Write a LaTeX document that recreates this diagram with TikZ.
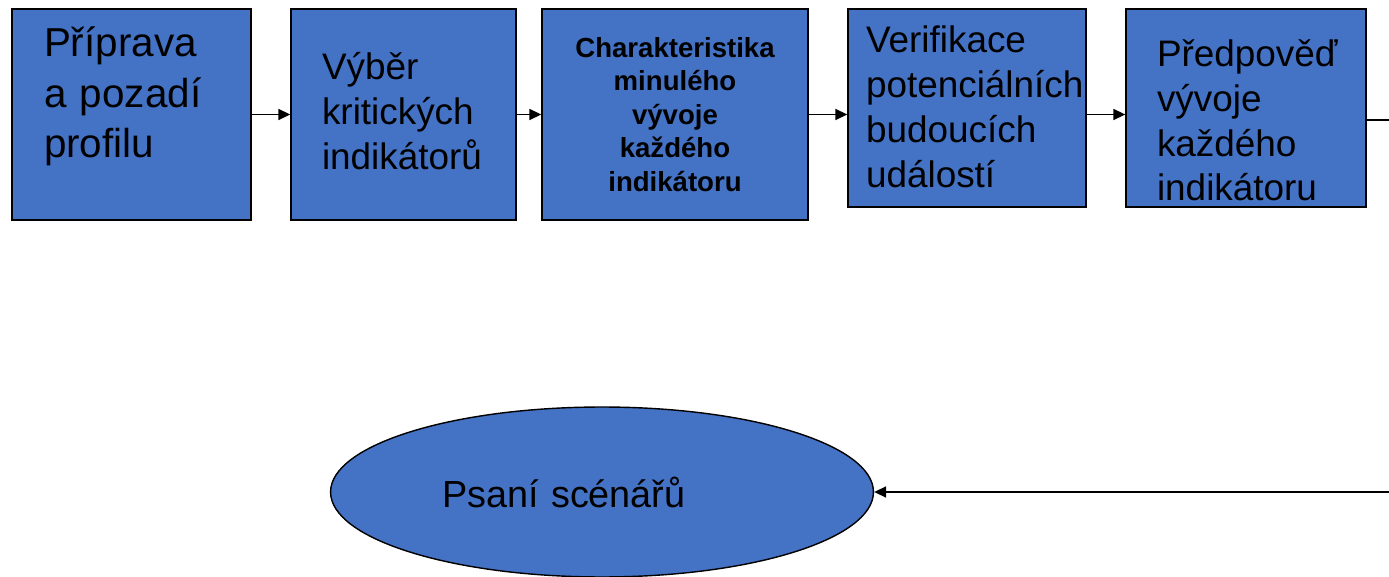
\documentclass[tikz,border=0pt]{standalone}
\usepackage{fontspec}
\setmainfont{Liberation Sans}
\usetikzlibrary{shapes.geometric,arrows.meta}
\definecolor{boxblue}{RGB}{68,114,196}

\begin{document}
\begin{tikzpicture}[x=0.02cm, y=-0.02cm, main/.style = {draw, fill=boxblue, line width=0.8pt, inner sep=0pt}, arr/.style = {line width=0.9pt, -{Triangle[length=2.4mm,width=2.2mm]}}]
			\useasboundingbox (0,0) rectangle (1389,577);
			\node[main, minimum width=4.78cm, minimum height=4.22cm, text width=3.5cm, align=left, font=\fontsize{23}{28.5}\selectfont, text height=27.3pt, text depth=92.8pt] (1) at (131.5,114.5) {Příprava\\a pozadí\\profilu};
			\node[main, minimum width=4.5cm, minimum height=4.22cm, text width=3.26cm, align=left, font=\fontsize{21}{25.6}\selectfont, text height=40.4pt, text depth=79.7pt] (2) at (403.5,114.5) {Výběr\\kritických\\indikátorů};
			\node[main, minimum width=5.32cm, minimum height=4.22cm, align=center, font=\fontsize{15.7}{19}\selectfont\bfseries] (3) at (675,114.5) {Charakteristika\\minulého\\vývoje\\každého\\indikátoru};
			\node[main, minimum width=4.76cm, minimum height=3.96cm, text width=4.04cm, align=left, font=\fontsize{21}{25.6}\selectfont, text height=25pt, text depth=87.7pt] (4) at (967,108) {Verifikace\\potenciálních\\budoucích\\událostí};
			\node[main, minimum width=4.8cm, minimum height=3.96cm, text width=3.56cm, align=left, font=\fontsize{21}{25.4}\selectfont, text height=33pt, text depth=79.7pt] (5) at (1246,108) {Předpověď\\vývoje\\každého\\indikátoru};
			\node[main, ellipse, minimum width=10.86cm, minimum height=3.4cm, text width=6.4cm, align=left, font=\fontsize{21.5}{25}\selectfont] (6) at (602,492) {Psaní scénářů};
			\coordinate (o1) at (1389,120);
			\coordinate (o2) at (1389,492);
			\draw[arr] (1) -- (2);
			\draw[arr] (2) -- (3);
			\draw[arr] (3.east) -- (3.east -| 4.west);
			\draw[arr] (4.east |- 3.east) -- (5.west |- 3.east);
			\draw[line width=0.9pt] (5.east |- o1) -- (o1);
			\draw[arr] (o2) -- (6);
		\end{tikzpicture}
\end{document}
